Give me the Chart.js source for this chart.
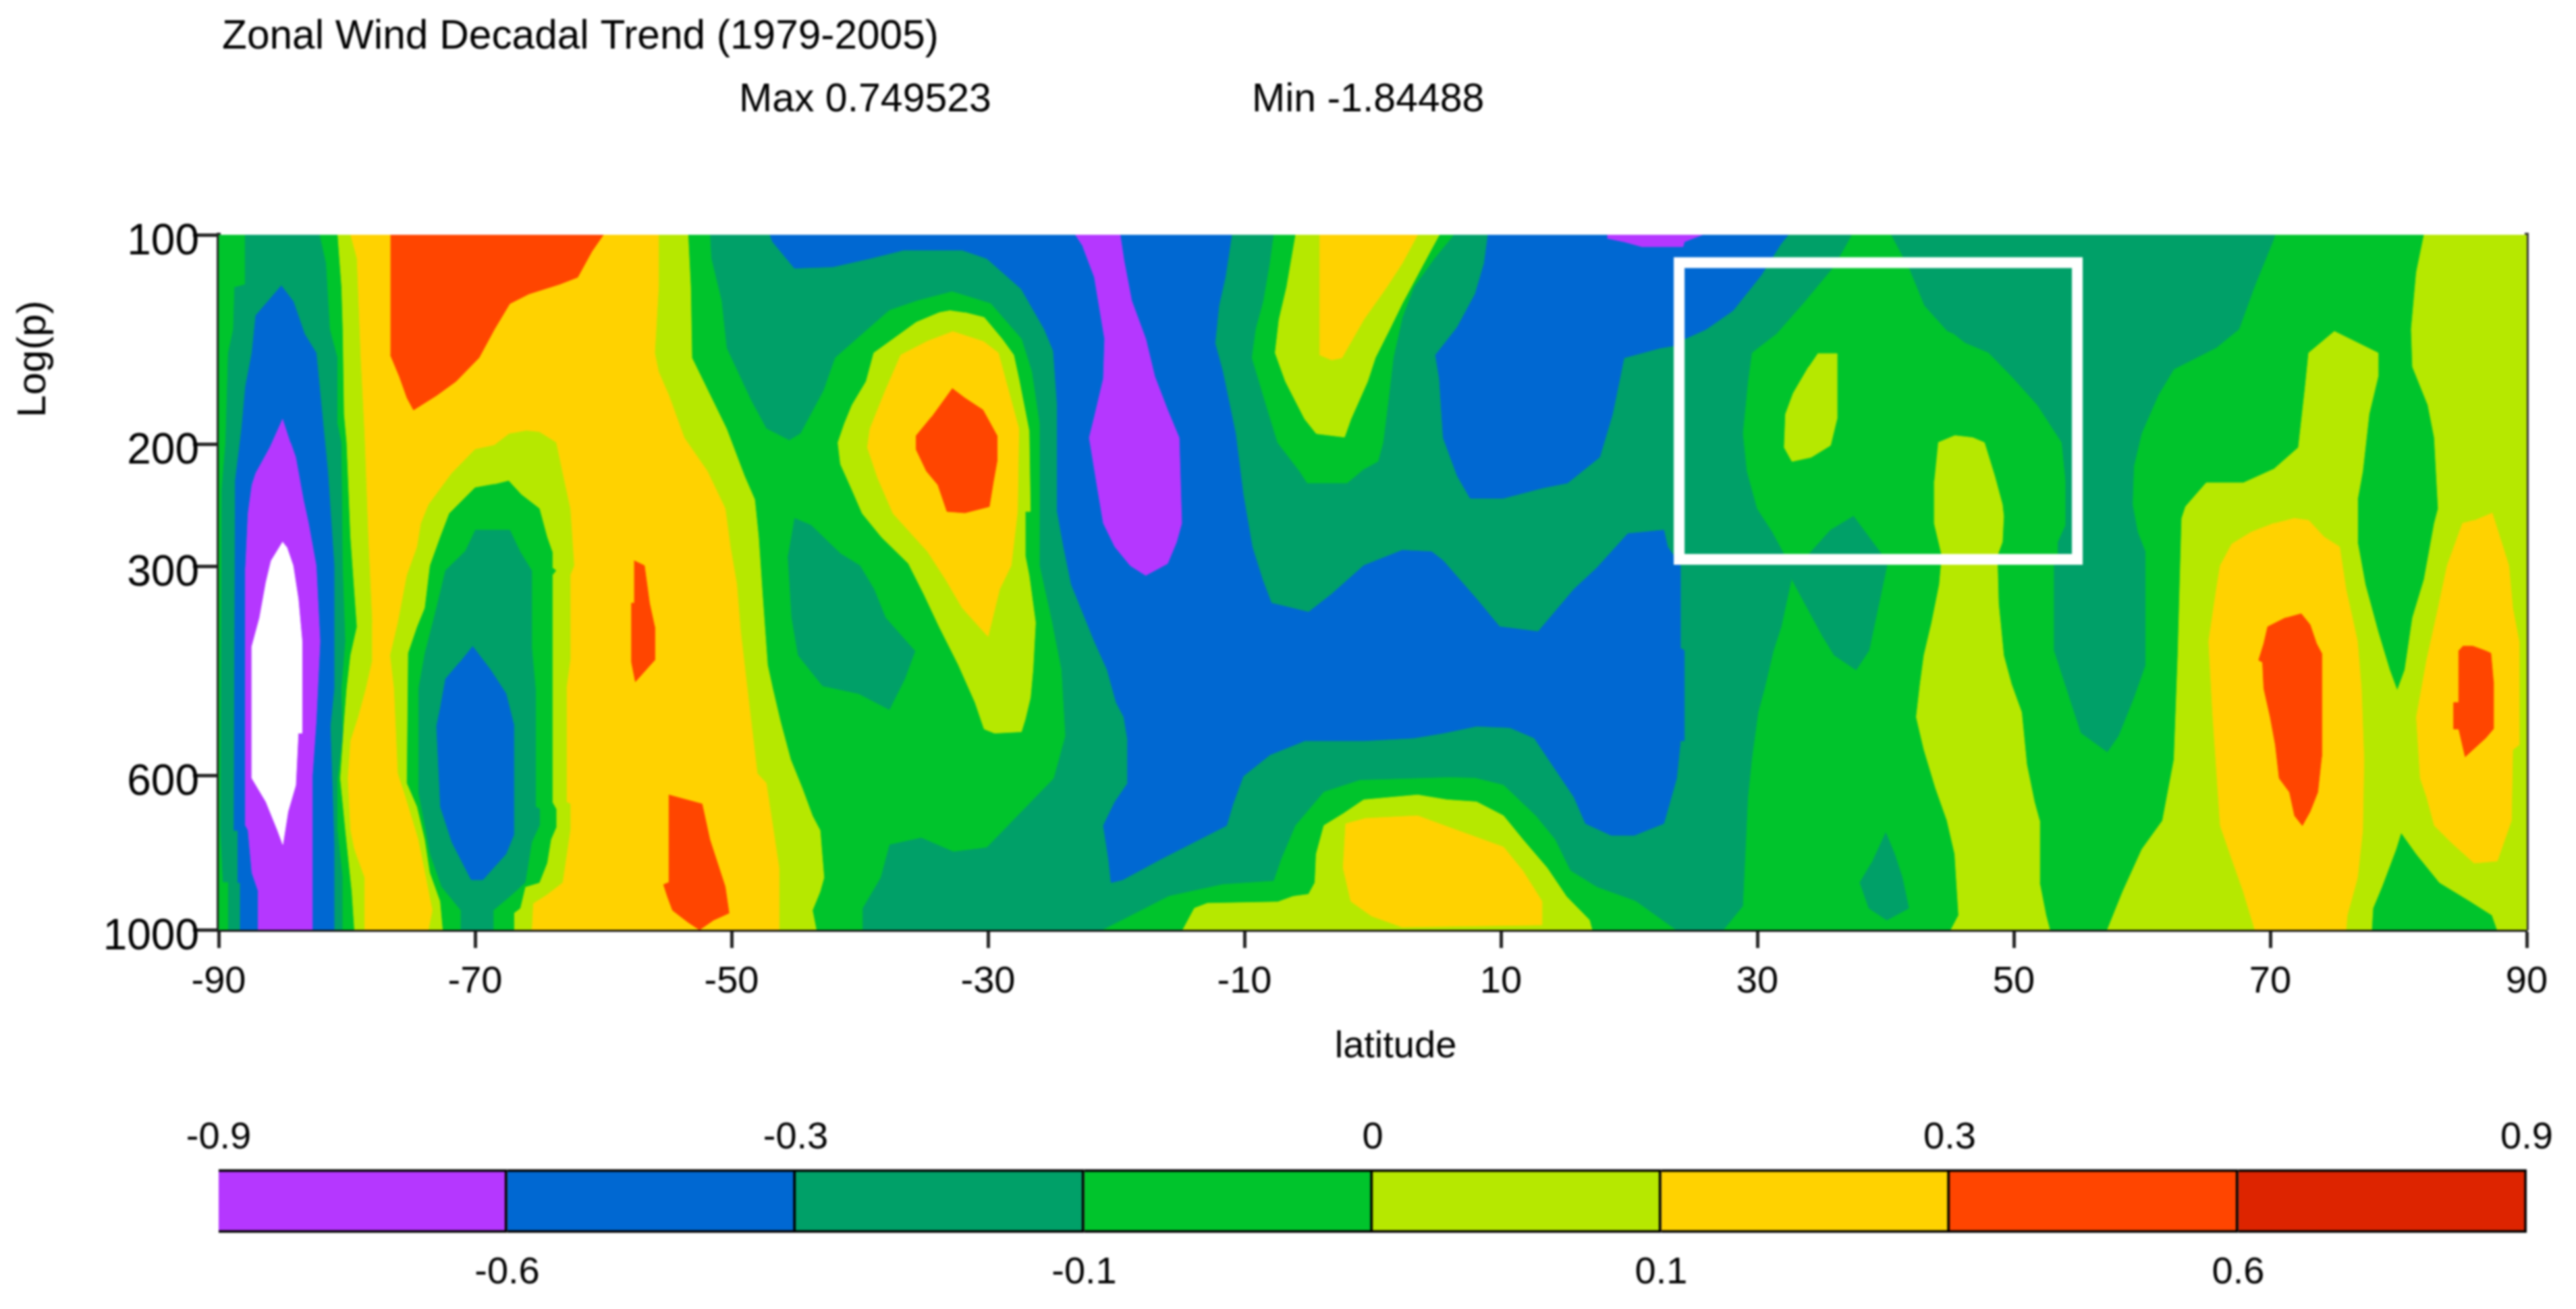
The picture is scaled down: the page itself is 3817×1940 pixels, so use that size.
<!DOCTYPE html>
<html>
<head>
<meta charset="utf-8">
<title>Zonal Wind Decadal Trend (1979-2005)</title>
<script src="https://cdn.jsdelivr.net/npm/chart.js@4"></script>
<style>
html,body{margin:0;padding:0;background:#fff;width:3817px;height:1940px;overflow:hidden}
canvas{position:absolute;left:0;display:block;filter:blur(1.5px)}
#main{top:0}
#bar{top:1640px}
</style>
</head>
<body>
<canvas id="main" width="3817" height="1940"></canvas>
<canvas id="bar" width="3817" height="300"></canvas>
<script>
// Labels
const chartTitle = 'Zonal Wind Decadal Trend (1979-2005)';
const maxLabel = 'Max 0.749523';
const minLabel = 'Min -1.84488';
const xTitle = 'latitude';
const yTitle = 'Log(p)';
const pressureTicks = [100, 200, 300, 600, 1000];
const latitudeStep = 20;
const levels = [-0.9, -0.6, -0.3, -0.1, 0, 0.1, 0.3, 0.6, 0.9];

// Colours of the eight contour classes
const purple = '#b537ff', blue = '#0068d2', teal = '#00a068', green = '#00c42c',
      lime = '#b6e800', yellow = '#ffd200', orange = '#ff4500', red = '#dd2400', white = '#ffffff';
const bandColours = [purple, blue, teal, green, lime, yellow, orange, red];

// Contour regions, as [latitude, log10(pressure)] pairs
const baseField = [[-90,2],[90,2],[90,3],[-90,3]];
const greenEdge = [[-90,2],[-88,2],[-88,2.071],[-88.8,2.075],[-88.9,2.136],[-89.3,2.17],[-89.5,2.299],[-89.8,2.367],[-89.9,2.857],[-89.7,2.932],[-89.3,2.932],[-89.3,3],[-90,3]];
const blueSouth = [[-85.1,2.073],[-87.1,2.116],[-87.4,2.17],[-87.9,2.218],[-88.2,2.279],[-88.7,2.354],[-88.8,2.857],[-88.5,2.857],[-88.5,2.932],[-88.3,2.932],[-88.3,3],[-81,3],[-81,2.877],[-81.3,2.707],[-81,2.653],[-81,2.476],[-81.5,2.34],[-81.9,2.265],[-82.4,2.17],[-83.3,2.143],[-84.2,2.095]];
const purpleSouth = [[-85,2.265],[-86,2.306],[-87.1,2.343],[-87.4,2.36],[-87.7,2.401],[-87.9,2.479],[-87.9,2.85],[-87.7,2.857],[-87.4,2.918],[-86.9,2.945],[-86.9,3],[-82.7,3],[-82.7,2.779],[-82.4,2.7],[-82.1,2.585],[-82.4,2.476],[-83,2.415],[-83.4,2.381],[-84,2.32],[-84.4,2.299]];
const whiteSouth = [[-85,2.442],[-85.9,2.469],[-86.3,2.5],[-86.8,2.551],[-87.4,2.592],[-87.4,2.782],[-86.3,2.816],[-85.4,2.857],[-85,2.877],[-84.6,2.83],[-84,2.792],[-83.8,2.717],[-83.5,2.717],[-83.5,2.585],[-83.8,2.524],[-84.2,2.476],[-84.7,2.449]];
const greenWest = [[-82.1,2],[-81.6,2.041],[-81.3,2.136],[-80.7,2.177],[-80.7,2.272],[-80.4,2.299],[-80.3,2.476],[-80.1,2.585],[-80.4,2.653],[-80.3,2.721],[-80.7,2.782],[-80.7,2.857],[-80.3,2.925],[-80.3,3],[-39.8,3],[-39.8,2.969],[-38.4,2.925],[-37.7,2.877],[-35.2,2.867],[-32.7,2.887],[-30.1,2.881],[-24.9,2.782],[-24,2.721],[-24.3,2.626],[-25.1,2.551],[-26,2.476],[-26,2.272],[-26.6,2.197],[-27.4,2.15],[-29.8,2.099],[-32.8,2.082],[-35.5,2.095],[-37.7,2.109],[-39.8,2.143],[-41.9,2.177],[-42.8,2.224],[-44.6,2.286],[-45.5,2.296],[-47.3,2.279],[-48.5,2.238],[-50.4,2.163],[-50.8,2.095],[-51.6,2.034],[-51.7,2]];
const limeWest = [[-80.7,2],[-80.4,2.075],[-80.3,2.136],[-80.2,2.258],[-80,2.299],[-79.7,2.435],[-79.2,2.564],[-79.7,2.605],[-80,2.653],[-80.2,2.7],[-80.5,2.782],[-80.1,2.857],[-79.6,2.945],[-79.4,3],[-43.4,3],[-43.7,2.972],[-43.1,2.945],[-42.8,2.925],[-43.1,2.857],[-43.7,2.836],[-44.5,2.796],[-45.4,2.755],[-46.2,2.7],[-46.8,2.653],[-47.2,2.619],[-47.6,2.517],[-47.9,2.435],[-48.2,2.381],[-49,2.347],[-50.4,2.279],[-52.2,2.211],[-53.1,2.177],[-53.2,2.075],[-53.4,2]];
const yellowWest = [[-79.7,2],[-79.2,2.034],[-78.9,2.177],[-78.6,2.286],[-78.3,2.435],[-78,2.558],[-78,2.612],[-78.5,2.653],[-79.1,2.694],[-79.7,2.728],[-79.9,2.782],[-79.7,2.857],[-79.4,2.884],[-78.6,2.925],[-78.6,3],[-46.3,3],[-46.3,2.911],[-47.3,2.789],[-48,2.775],[-48.7,2.666],[-49.3,2.571],[-49.6,2.503],[-50.1,2.449],[-50.5,2.394],[-51.9,2.34],[-53.7,2.292],[-54.9,2.231],[-55.7,2.197],[-56,2.17],[-55.7,2.075],[-55.7,2]];
const orangeTop = [[-76.6,2],[-60,2],[-60.9,2.024],[-62,2.061],[-63.4,2.071],[-65.8,2.085],[-67.3,2.099],[-68.5,2.136],[-69.7,2.177],[-71.5,2.211],[-73,2.231],[-74.8,2.252],[-75.3,2.235],[-75.9,2.204],[-76.6,2.173]];
const orangeMid = [[-57.6,2.469],[-56.8,2.476],[-56.4,2.53],[-56,2.564],[-56,2.612],[-57.5,2.643],[-57.8,2.615],[-57.8,2.53],[-57.6,2.53]];
const orangeLow = [[-54.9,2.806],[-52.3,2.819],[-51.7,2.87],[-50.5,2.938],[-50.2,2.976],[-51.4,2.986],[-52.5,3],[-53.4,2.989],[-54.6,2.972],[-55,2.952],[-55.3,2.935],[-54.9,2.932]];
const poolLime = [[-66.1,2.282],[-65,2.284],[-63.7,2.299],[-63.2,2.343],[-62.6,2.394],[-62.3,2.476],[-62.6,2.49],[-62.6,2.612],[-62.9,2.653],[-62.9,2.816],[-62.6,2.819],[-62.6,2.857],[-63.2,2.932],[-64.4,2.949],[-65.5,2.962],[-65.6,3],[-73.6,3],[-73.3,2.972],[-73.8,2.925],[-74.4,2.87],[-75.4,2.809],[-76,2.775],[-76.3,2.653],[-76.6,2.605],[-76,2.558],[-75.3,2.49],[-74.5,2.449],[-74.2,2.415],[-73.6,2.388],[-71.8,2.343],[-70,2.309],[-68.5,2.303],[-67.3,2.286]];
const poolGreen = [[-67.4,2.354],[-66.4,2.374],[-65,2.394],[-64.4,2.435],[-64,2.456],[-64,2.479],[-63.7,2.483],[-64,2.49],[-64,2.816],[-63.7,2.826],[-63.7,2.853],[-64.1,2.87],[-64.4,2.904],[-65,2.932],[-66.1,2.938],[-66.5,2.969],[-67,2.976],[-67,3],[-72.5,3],[-72.7,2.959],[-73.5,2.918],[-73.9,2.87],[-74.5,2.823],[-75.3,2.789],[-75.2,2.602],[-74.5,2.564],[-73.9,2.537],[-73.5,2.476],[-72.7,2.435],[-72,2.401],[-70,2.364],[-68.5,2.359]];
const poolTeal = [[-70,2.425],[-67.3,2.425],[-66.5,2.456],[-65.6,2.483],[-65.6,2.592],[-65.3,2.653],[-65.3,2.823],[-65,2.826],[-65,2.85],[-65.6,2.874],[-66.1,2.932],[-67.3,2.952],[-68.6,2.972],[-68.6,3],[-71.1,3],[-71.1,2.972],[-72.6,2.938],[-73.5,2.891],[-73.9,2.85],[-74.4,2.803],[-74.4,2.653],[-73.9,2.602],[-73,2.537],[-72.3,2.483],[-70.8,2.456]];
const poolBlue = [[-70.2,2.592],[-68.8,2.626],[-67.6,2.66],[-67,2.704],[-67,2.864],[-67.6,2.891],[-69.4,2.928],[-70.3,2.928],[-71.8,2.874],[-72.7,2.823],[-73,2.707],[-72.7,2.68],[-72.3,2.639],[-71.2,2.615]];
const tealIsland = [[-45.1,2.408],[-43.8,2.418],[-41.5,2.459],[-40,2.476],[-38.9,2.51],[-38,2.551],[-35.7,2.599],[-36.5,2.639],[-37.7,2.683],[-40.1,2.66],[-42.9,2.649],[-44.8,2.605],[-45.3,2.551],[-45.6,2.462]];
const blobLime = [[-32.9,2.109],[-33.8,2.112],[-35.6,2.126],[-37.4,2.15],[-38.9,2.17],[-39.5,2.211],[-40.6,2.245],[-41.2,2.272],[-41.7,2.299],[-41.5,2.33],[-40.6,2.367],[-39.8,2.401],[-38.3,2.435],[-36.2,2.473],[-35,2.517],[-33.8,2.564],[-32.3,2.619],[-31,2.673],[-30.3,2.711],[-29.5,2.717],[-27.4,2.715],[-27.1,2.697],[-26.7,2.666],[-26.5,2.626],[-26.3,2.558],[-26.8,2.49],[-27.1,2.462],[-27.1,2.398],[-26.7,2.398],[-26.8,2.282],[-27.6,2.207],[-28,2.173],[-28.9,2.15],[-30.3,2.119],[-31.8,2.112]];
const blobYellow = [[-32.7,2.139],[-34.7,2.153],[-36.8,2.173],[-38,2.224],[-39.2,2.279],[-39.4,2.306],[-38.6,2.35],[-37.4,2.401],[-34.7,2.456],[-33.3,2.496],[-32,2.537],[-30,2.578],[-29.1,2.51],[-28.2,2.476],[-27.7,2.398],[-27.6,2.279],[-28.6,2.211],[-29.2,2.17],[-30.4,2.153]];
const blobOrange = [[-32.8,2.221],[-31.8,2.235],[-30.4,2.252],[-29.8,2.272],[-29.3,2.289],[-29.3,2.326],[-29.6,2.357],[-29.9,2.391],[-31.8,2.4],[-33.2,2.398],[-33.9,2.36],[-34.8,2.34],[-35.6,2.309],[-35.6,2.289],[-34.4,2.262]];
const blueCentre = [[-47,2],[-46.8,2.01],[-45.1,2.048],[-42.1,2.046],[-39.2,2.034],[-36.6,2.022],[-32,2.022],[-30.1,2.034],[-27.4,2.078],[-25.6,2.136],[-24.9,2.167],[-24.6,2.245],[-24.6,2.398],[-24.1,2.449],[-23.5,2.503],[-21.7,2.585],[-20.7,2.626],[-20,2.673],[-19.4,2.694],[-19.1,2.728],[-19.1,2.789],[-20.1,2.816],[-21,2.85],[-20.6,2.898],[-20.4,2.932],[-19.5,2.928],[-16.5,2.898],[-11.4,2.85],[-10.9,2.819],[-10.1,2.779],[-8,2.748],[-5.3,2.728],[-0.7,2.728],[3.2,2.724],[5.5,2.717],[8.1,2.707],[10.7,2.709],[12.6,2.724],[14.2,2.768],[15.7,2.809],[16.6,2.847],[18.6,2.864],[20.4,2.864],[22.7,2.847],[23.7,2.782],[24,2.728],[24.3,2.728],[24.3,2.598],[24,2.595],[24,2.476],[23,2.449],[22.7,2.425],[19.9,2.43],[17.5,2.479],[15.7,2.51],[12.9,2.571],[9.9,2.564],[8.1,2.524],[5.5,2.469],[4.6,2.456],[2.3,2.454],[-0.7,2.476],[-3.2,2.517],[-5,2.543],[-7.9,2.53],[-8.6,2.496],[-9.4,2.449],[-10.1,2.374],[-10.7,2.286],[-11.7,2.197],[-12.3,2.156],[-12,2.102],[-11.5,2.061],[-11,2]];
const purpleTongue = [[-23.2,2],[-19.7,2],[-19.4,2.037],[-18.8,2.095],[-17.7,2.15],[-17,2.204],[-16,2.252],[-15.1,2.292],[-14.9,2.415],[-15.3,2.442],[-16,2.473],[-17.7,2.49],[-18.9,2.476],[-20.1,2.449],[-21,2.415],[-21.5,2.36],[-22.1,2.292],[-21.7,2.262],[-21,2.207],[-20.9,2.15],[-21.7,2.061],[-22.6,2.017]];
const blueTop = [[9,2],[8.7,2.041],[8,2.085],[6.6,2.133],[4.9,2.173],[5.2,2.207],[5.5,2.292],[6.6,2.347],[7.6,2.379],[10.2,2.379],[13.3,2.364],[15.2,2.357],[17.7,2.32],[18.7,2.258],[19.6,2.177],[22.4,2.163],[23.4,2.16],[24.3,2.15],[26,2.136],[28.1,2.109],[30.3,2.058],[31.8,2.014],[32.4,2]];
const purpleTop = [[18.3,2],[25.7,2],[24.3,2.01],[24.2,2.017],[21,2.017],[19.6,2.01],[18.3,2.005]];
const equatorGreen = [[-7.7,2],[-8,2.041],[-8.5,2.095],[-9.1,2.136],[-9.4,2.177],[-8.3,2.245],[-7.4,2.299],[-5.7,2.34],[-5.1,2.357],[-2,2.357],[-0.7,2.337],[0.4,2.326],[0.8,2.299],[1.3,2.224],[1.6,2.177],[2.3,2.119],[3.2,2.075],[4.8,2.034],[6,2.007],[6.3,2]];
const equatorLime = [[-6,2],[-6.7,2.075],[-7.3,2.122],[-7.6,2.17],[-6.8,2.211],[-5.3,2.265],[-4.4,2.286],[-2.2,2.291],[-1.7,2.265],[-0.4,2.211],[0.2,2.177],[1.4,2.133],[2.3,2.099],[3.9,2.044],[5.1,2.003],[5.2,2]];
const equatorYellow = [[-4.1,2],[-4.1,2.173],[-3.2,2.18],[-2.4,2.177],[-0.7,2.122],[1.1,2.075],[2.3,2.041],[3.5,2]];
const lowGreen = [[-21,3],[-19.5,2.986],[-15.9,2.952],[-11.7,2.935],[-7.7,2.93],[-7.1,2.898],[-6,2.85],[-3.8,2.802],[-1,2.785],[6,2.781],[8,2.782],[10.2,2.792],[12.7,2.836],[14.2,2.87],[15.4,2.915],[17.5,2.939],[20.5,2.959],[23.6,3]];
const lowLime = [[-14.8,3],[-13.9,2.969],[-12.9,2.962],[-7.4,2.96],[-6.2,2.952],[-5,2.949],[-4.5,2.932],[-4.4,2.891],[-3.8,2.85],[-2.3,2.833],[-0.7,2.813],[3.5,2.806],[5.8,2.813],[8.1,2.816],[10.2,2.836],[11.7,2.87],[13.6,2.911],[15.1,2.952],[16.9,2.986],[17.1,3]];
const lowYellow = [[-2.1,2.847],[-2.3,2.911],[-1.7,2.959],[-0.1,2.98],[2.3,2.996],[13.2,2.993],[13.2,2.959],[11.7,2.915],[10.2,2.881],[6,2.853],[3.5,2.836],[-0.7,2.84]];
const eastGreen = [[37.4,2],[36.8,2.02],[35.9,2.048],[33.6,2.099],[31.5,2.143],[29.6,2.17],[29.3,2.211],[28.9,2.286],[29.2,2.34],[30,2.394],[31.2,2.428],[32.1,2.459],[32.4,2.467],[32.7,2.496],[31.9,2.564],[31.3,2.598],[30.6,2.653],[30.1,2.687],[29.6,2.755],[29.3,2.809],[28.9,2.966],[27.4,3],[90,3],[90,2],[70.4,2],[70.3,2.007],[68.8,2.075],[67.6,2.136],[65.8,2.163],[62.5,2.194],[61.3,2.231],[60,2.286],[59.4,2.333],[59.3,2.388],[59.7,2.428],[60.3,2.456],[60.3,2.619],[59.4,2.666],[58.2,2.721],[57.3,2.745],[55.2,2.717],[54.3,2.666],[53.1,2.598],[53.1,2.474],[53.4,2.46],[53.4,2.442],[54,2.418],[54,2.354],[53.7,2.299],[51.8,2.245],[49.8,2.204],[48,2.17],[46.2,2.156],[45.3,2.143],[44.8,2.139],[43,2.102],[41.8,2.048],[40.4,2]];
const tealWedge = [[34,2.46],[35.7,2.425],[37.5,2.405],[39.7,2.46],[40.1,2.476],[39.4,2.537],[38.7,2.598],[37.7,2.626],[36,2.605],[35.1,2.578],[32.7,2.496],[32.4,2.474],[34,2.467]];
const tealSmall = [[40,2.86],[40.7,2.891],[41.3,2.925],[41.8,2.969],[40.1,2.986],[38.7,2.969],[38,2.932],[38.9,2.904]];
const limeSmall = [[34.7,2.171],[36.2,2.171],[36.2,2.265],[35.7,2.303],[34.2,2.32],[32.7,2.326],[32.1,2.306],[32.2,2.258],[32.8,2.228],[34,2.19]];
const limeMiddle = [[44.1,2.299],[45.4,2.289],[46.8,2.292],[47.7,2.299],[48.5,2.347],[49.1,2.388],[49.2,2.405],[49.1,2.442],[48.7,2.462],[48.8,2.53],[49.2,2.605],[49.8,2.646],[50.6,2.687],[51,2.762],[51.6,2.816],[52,2.843],[52,2.932],[52.5,2.979],[52.8,3],[45.1,3],[45.7,2.979],[45.4,2.891],[44.8,2.843],[43.9,2.796],[43,2.741],[42.4,2.694],[42.7,2.646],[43,2.605],[43.6,2.558],[44.2,2.503],[44.4,2.462],[43.8,2.415],[43.8,2.354]];
const limeEast = [[57.3,3],[58.5,2.945],[60,2.884],[61.6,2.843],[62.5,2.755],[62.8,2.605],[63.1,2.408],[63.4,2.391],[65,2.357],[67.9,2.357],[70.3,2.337],[72.2,2.306],[72.7,2.224],[73,2.17],[75,2.139],[78.4,2.17],[78.4,2.204],[77.7,2.258],[77.2,2.34],[76.8,2.381],[76.8,2.442],[77.4,2.503],[78.4,2.571],[79.3,2.626],[79.9,2.656],[80.5,2.626],[81.1,2.551],[82,2.496],[82.8,2.415],[83.1,2.394],[82.8,2.292],[82.3,2.245],[81.1,2.19],[81,2.136],[81.4,2.054],[82,2],[90,2],[90,3],[87.7,3],[87.3,2.979],[85.6,2.959],[83.2,2.932],[81.4,2.891],[80.2,2.86],[79.8,2.884],[78.7,2.938],[78,2.969],[77.9,3]];
const yellowEast = [[71.8,2.408],[73,2.411],[74.2,2.435],[75.4,2.449],[75.9,2.51],[76.8,2.585],[77.1,2.653],[77.3,2.755],[77.2,2.857],[76.8,2.925],[76,2.979],[75.9,3],[68.8,3],[67.9,2.945],[67,2.898],[66.1,2.85],[65.8,2.768],[65.5,2.687],[65.2,2.585],[65.8,2.51],[66.1,2.476],[67,2.445],[68.5,2.428],[70.3,2.415]];
const orangeEast = [[72.4,2.545],[73.1,2.561],[73.6,2.588],[74,2.602],[74,2.751],[73.7,2.802],[73.1,2.83],[72.5,2.85],[71.9,2.836],[71.5,2.802],[70.7,2.782],[70.4,2.734],[70,2.694],[69.5,2.653],[69.4,2.615],[69.1,2.612],[69.5,2.588],[69.8,2.564],[71.2,2.551]];
const yellowPole = [[87.3,2.4],[87.9,2.435],[88.6,2.476],[88.9,2.537],[89.4,2.585],[89.4,2.734],[88.9,2.741],[88.8,2.843],[87.7,2.901],[85.9,2.904],[84.1,2.874],[82.8,2.85],[82.2,2.809],[81.7,2.782],[81.4,2.694],[82.2,2.612],[83.1,2.537],[83.8,2.476],[85,2.415],[85.9,2.411]];
const orangePole = [[85,2.592],[85.8,2.592],[86.7,2.598],[87.2,2.602],[87.4,2.643],[87.4,2.711],[86.8,2.724],[85.2,2.751],[84.7,2.711],[84.3,2.711],[84.3,2.673],[84.7,2.673],[84.7,2.598]];
const focusBox = [[23.9,2.04],[54.95,2.04],[54.95,2.467],[23.9,2.467],[23.9,2.04],[54.95,2.04]];

// Painting order: later entries sit on top of earlier ones
const layers = [
  [baseField, teal], [greenEdge, green], [blueSouth, blue], [purpleSouth, purple], [whiteSouth, white],
  [greenWest, green], [limeWest, lime], [yellowWest, yellow], [orangeTop, orange], [orangeMid, orange], [orangeLow, orange],
  [poolLime, lime], [poolGreen, green], [poolTeal, teal], [poolBlue, blue],
  [tealIsland, teal], [blobLime, lime], [blobYellow, yellow], [blobOrange, orange],
  [blueCentre, blue], [purpleTongue, purple], [blueTop, blue], [purpleTop, purple],
  [equatorGreen, green], [equatorLime, lime], [equatorYellow, yellow],
  [lowGreen, green], [lowLime, lime], [lowYellow, yellow],
  [eastGreen, green], [tealWedge, teal], [tealSmall, teal], [limeSmall, lime], [limeMiddle, lime],
  [limeEast, lime], [yellowEast, yellow], [orangeEast, orange], [yellowPole, yellow], [orangePole, orange]
];

const FONT = '"Liberation Sans", Arial, sans-serif';
const tickFont = {family: FONT, size: 56};
const yTickFont = {family: FONT, size: 64};
const toPoints = pairs => pairs.map(([x, y]) => ({x, y}));
const total = layers.length + 1;

const datasets = layers.map(([pairs, colour], i) => ({
  data: toPoints(pairs),
  showLine: true,
  fill: 'shape',
  backgroundColor: colour,
  borderColor: colour,
  borderWidth: 1,
  pointRadius: 0,
  tension: 0,
  order: total - i
}));
datasets.push({
  data: toPoints(focusBox),
  showLine: true,
  fill: false,
  borderColor: white,
  borderWidth: 16,
  borderJoinStyle: 'miter',
  pointRadius: 0,
  order: 0
});

const headerText = {
  id: 'headerText',
  afterDraw(chart) {
    const c = chart.ctx;
    c.save();
    c.fillStyle = '#000';
    c.font = '60.4px ' + FONT;
    c.textAlign = 'left';
    c.textBaseline = 'alphabetic';
    c.fillText(chartTitle, 329, 72);
    c.font = '59px ' + FONT;
    c.fillText(maxLabel, 1095, 165);
    c.fillText(minLabel, 1855, 165);
    c.textAlign = 'center';
    c.textBaseline = 'middle';
    c.font = '56px ' + FONT;
    c.fillText(xTitle, 2068, 1552);
    c.font = '60px ' + FONT;
    c.translate(50, 532);
    c.rotate(-Math.PI / 2);
    c.fillText(yTitle, 0, 0);
    c.restore();
  }
};

new Chart(document.getElementById('main'), {
  type: 'scatter',
  data: {datasets},
  plugins: [headerText],
  options: {
    responsive: false,
    animation: false,
    events: [],
    devicePixelRatio: 1,
    layout: {padding: {top: 348, right: 73, left: 0, bottom: 0}},
    plugins: {legend: {display: false}, tooltip: {enabled: false}, title: {display: false}},
    scales: {
      x: {
        type: 'linear', min: -90, max: 90,
        afterFit(scale) { scale.height = 562; },
        ticks: {stepSize: latitudeStep, color: '#000', font: tickFont, padding: 17, maxRotation: 0, autoSkip: false, includeBounds: true},
        grid: {drawOnChartArea: false, drawTicks: true, tickLength: 27, tickWidth: 5, tickColor: '#222'},
        border: {display: true, color: '#111', width: 6}
      },
      y: {
        type: 'linear', min: 2, max: 3, reverse: true,
        afterFit(scale) { scale.width = 324; },
        afterBuildTicks(scale) { scale.ticks = pressureTicks.map(p => ({value: Math.log10(p)})); },
        ticks: {
          color: '#000', font: yTickFont, padding: -9, labelOffset: 11, autoSkip: false,
          callback(value, index) { return String(pressureTicks[index]); }
        },
        grid: {drawOnChartArea: false, drawTicks: true, tickLength: 38, tickWidth: 5, tickColor: '#222'},
        border: {display: true, color: '#222', width: 6}
      },
      right: {
        type: 'linear', position: 'right', display: true, min: 2, max: 3, reverse: true,
        afterFit(scale) { scale.width = 0; },
        ticks: {display: false},
        grid: {display: false},
        border: {display: true, color: '#333', width: 6}
      }
    }
  }
});

// Colour bar: one stacked segment for each contour class
new Chart(document.getElementById('bar'), {
  type: 'bar',
  data: {
    labels: ['bar'],
    datasets: bandColours.map(colour => ({
      data: [1], backgroundColor: colour, borderColor: '#000', borderWidth: 4,
      barPercentage: 1, categoryPercentage: 1, stack: 's'
    }))
  },
  options: {
    indexAxis: 'y',
    responsive: false,
    animation: false,
    events: [],
    devicePixelRatio: 1,
    layout: {padding: {left: 324, right: 73, top: 0, bottom: 0}},
    plugins: {legend: {display: false}, tooltip: {enabled: false}},
    scales: {
      y: {display: false, stacked: true},
      x: {
        type: 'linear', position: 'bottom', min: 0, max: levels.length - 1, stacked: true,
        afterFit(scale) { scale.height = 113; },
        ticks: {stepSize: 1, color: '#000', font: tickFont, padding: 18, autoSkip: false, maxRotation: 0,
          callback(v) { return v % 2 === 1 ? String(levels[v]) : ''; }},
        grid: {display: false}, border: {display: false}
      },
      xTop: {
        type: 'linear', position: 'top', min: 0, max: levels.length - 1,
        afterFit(scale) { scale.height = 93; },
        ticks: {stepSize: 1, color: '#000', font: tickFont, padding: 5, autoSkip: false, maxRotation: 0,
          callback(v) { return v % 2 === 0 ? String(levels[v]) : ''; }},
        grid: {display: false}, border: {display: false}
      }
    }
  }
});
</script>
</body>
</html>
